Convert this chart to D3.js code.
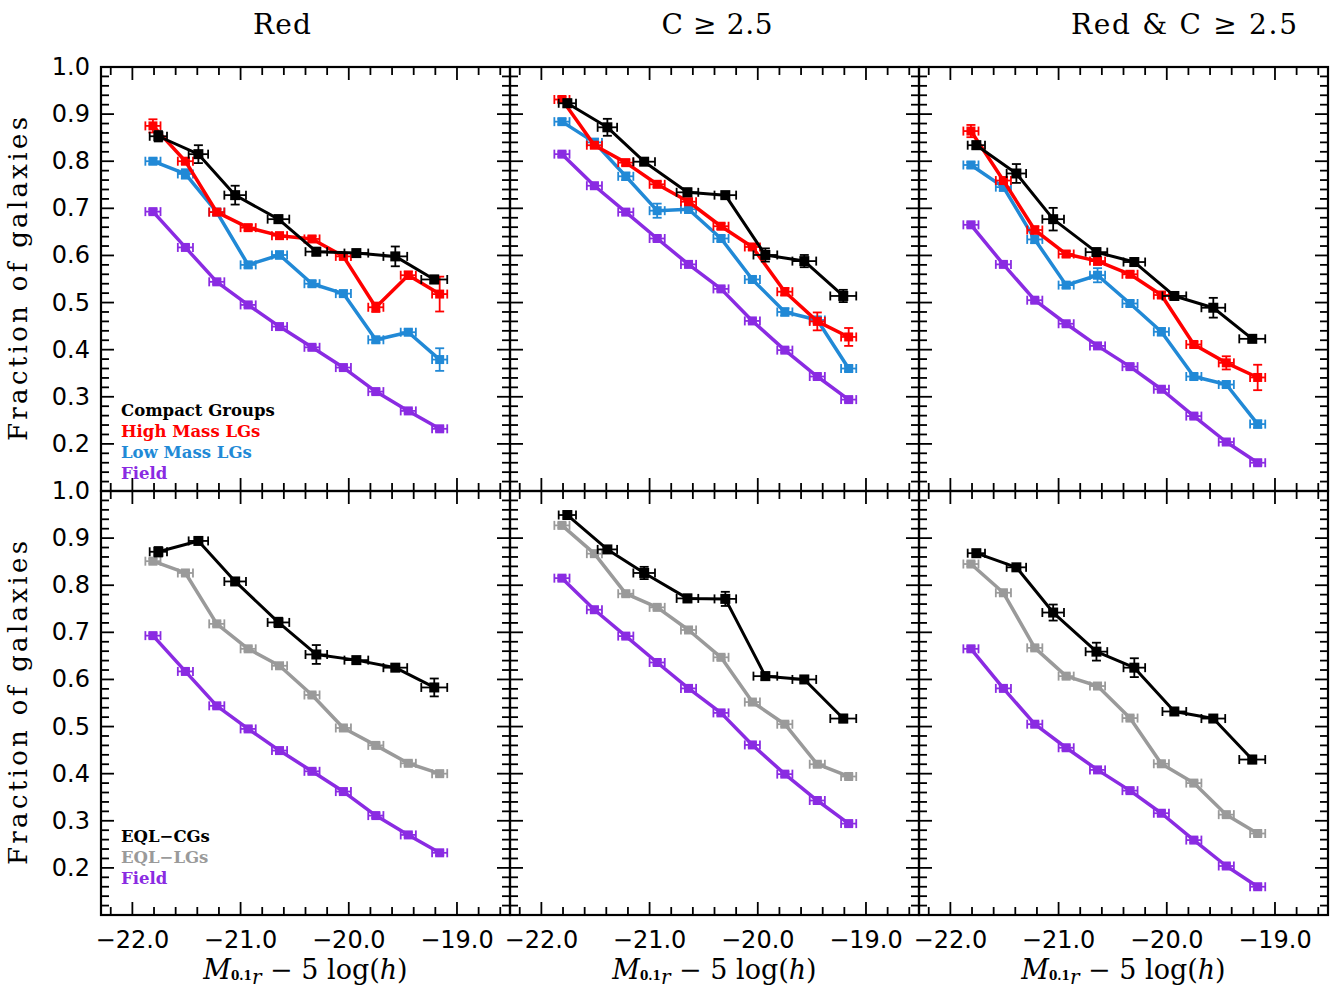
<!DOCTYPE html>
<html>
<head>
<meta charset="utf-8">
<script src="https://cdn.jsdelivr.net/npm/d3@7"></script>
<style>
  body { margin: 0; background: #fff; }
  svg { display: block; }
</style>
</head>
<body>
<svg width="1334" height="991"></svg>
<script>
// Magnitude bins
const fieldX = [-21.81, -21.51, -21.22, -20.93, -20.64, -20.34, -20.05, -19.75, -19.45, -19.16];
const fieldXErr = [0.07, 0.07, 0.07, 0.07, 0.07, 0.07, 0.07, 0.07, 0.07, 0.07];
const cgX = [-21.76, -21.39, -21.05, -20.65, -20.3, -19.93, -19.57, -19.21];
const cgXErr = [0.08, 0.09, 0.1, 0.1, 0.1, 0.11, 0.11, 0.12];

// Column titles
const titles = ["Red", "C \u2265 2.5", "Red & C \u2265 2.5"];

// Red
const redField = [0.693, 0.617, 0.544, 0.495, 0.449, 0.405, 0.362, 0.311, 0.27, 0.232];
const redCG = [0.853, 0.815, 0.728, 0.677, 0.608, 0.605, 0.598, 0.549];
const redCGErr = [0.011, 0.019, 0.02, 0.008, 0.008, 0.006, 0.021, 0.008];
const redHigh = [0.875, 0.8, 0.692, 0.659, 0.642, 0.635, 0.598, 0.49, 0.558, 0.518];
const redHighErr = [0.014, 0.006, 0.006, 0.006, 0.006, 0.006, 0.006, 0.01, 0.008, 0.037];
const redLow = [0.8, 0.773, 0.692, 0.58, 0.601, 0.54, 0.519, 0.421, 0.437, 0.379];
const redLowErr = [0.006, 0.01, 0.006, 0.006, 0.008, 0.006, 0.006, 0.006, 0.006, 0.024];
const redEqlCG = [0.871, 0.894, 0.808, 0.721, 0.653, 0.641, 0.625, 0.583];
const redEqlCGErr = [0.01, 0.006, 0.006, 0.01, 0.02, 0.006, 0.006, 0.019];
const redEqlLG = [0.851, 0.826, 0.718, 0.665, 0.629, 0.567, 0.497, 0.46, 0.422, 0.4];

// C >= 2.5
const concField = [0.815, 0.748, 0.692, 0.636, 0.581, 0.529, 0.461, 0.399, 0.343, 0.294];
const concCG = [0.923, 0.872, 0.799, 0.734, 0.728, 0.601, 0.588, 0.514];
const concCGErr = [0.008, 0.018, 0.006, 0.008, 0.006, 0.014, 0.013, 0.013];
const concHigh = [0.931, 0.834, 0.797, 0.751, 0.714, 0.662, 0.618, 0.523, 0.46, 0.427];
const concHighErr = [0.006, 0.006, 0.006, 0.006, 0.006, 0.006, 0.006, 0.008, 0.019, 0.019];
const concLow = [0.884, 0.84, 0.768, 0.695, 0.698, 0.636, 0.549, 0.48, 0.463, 0.36];
const concLowErr = [0.006, 0.008, 0.008, 0.015, 0.008, 0.006, 0.006, 0.008, 0.006, 0.006];
const concEqlCG = [0.949, 0.876, 0.826, 0.772, 0.771, 0.607, 0.6, 0.517];
const concEqlCGErr = [0.006, 0.006, 0.013, 0.008, 0.015, 0.008, 0.006, 0.008];
const concEqlLG = [0.927, 0.867, 0.782, 0.753, 0.705, 0.647, 0.552, 0.505, 0.42, 0.394];

// Red & C >= 2.5
const bothField = [0.665, 0.581, 0.505, 0.455, 0.408, 0.364, 0.316, 0.259, 0.204, 0.16];
const bothCG = [0.834, 0.774, 0.677, 0.607, 0.586, 0.514, 0.489, 0.423];
const bothCGErr = [0.008, 0.02, 0.024, 0.008, 0.008, 0.008, 0.021, 0.006];
const bothHigh = [0.864, 0.759, 0.654, 0.603, 0.588, 0.56, 0.516, 0.411, 0.372, 0.341];
const bothHighErr = [0.013, 0.006, 0.008, 0.006, 0.008, 0.006, 0.006, 0.006, 0.014, 0.027];
const bothLow = [0.792, 0.745, 0.634, 0.537, 0.558, 0.498, 0.438, 0.343, 0.326, 0.242];
const bothLowErr = [0.006, 0.008, 0.008, 0.006, 0.015, 0.006, 0.008, 0.006, 0.006, 0.008];
const bothEqlCG = [0.868, 0.838, 0.742, 0.659, 0.625, 0.532, 0.517, 0.43];
const bothEqlCGErr = [0.006, 0.006, 0.017, 0.019, 0.02, 0.006, 0.006, 0.008];
const bothEqlLG = [0.845, 0.784, 0.667, 0.607, 0.586, 0.518, 0.421, 0.38, 0.313, 0.273];

const smallErr = [0.005, 0.005, 0.005, 0.005, 0.005, 0.005, 0.005, 0.005, 0.005, 0.005];

const xTicks = [-22, -21, -20, -19];
const yTicks = [1.0, 0.9, 0.8, 0.7, 0.6, 0.5, 0.4, 0.3, 0.2];

const topLegend = ["Compact Groups", "High Mass LGs", "Low Mass LGs", "Field"];
const bottomLegend = ["EQL\u2212CGs", "EQL\u2212LGs", "Field"];

const COLORS = {
  cg: "#000000",
  high: "#ff0000",
  low: "#2189d6",
  field: "#8a2be2",
  eqlLG: "#9a9a9a"
};

const svg = d3.select("svg");

// Panel geometry
const panelW = 409;
const panelH = 424;
const left0 = 101;
const top0 = 67;

const x = d3.scaleLinear().domain([-22.29, -18.51]).range([0, panelW]);
const y = d3.scaleLinear().domain([0.1, 1.0]).range([panelH, 0]);

function series(xs, ys, xe, ye, color, lw, ms) {
  return xs.map((v, i) => ({ x: v, y: ys[i], xe: xe[i], ye: ye[i] }))
    .map((d) => Object.assign(d, { color, lw, ms }));
}

const panels = [
  { col: 0, row: 0, lines: [
    series(fieldX, redField, fieldXErr, smallErr, COLORS.field, 3.5, 9),
    series(fieldX, redLow, fieldXErr, redLowErr, COLORS.low, 3.5, 9),
    series(fieldX, redHigh, fieldXErr, redHighErr, COLORS.high, 3.5, 9),
    series(cgX, redCG, cgXErr, redCGErr, COLORS.cg, 3, 10)
  ] },
  { col: 1, row: 0, lines: [
    series(fieldX, concField, fieldXErr, smallErr, COLORS.field, 3.5, 9),
    series(fieldX, concLow, fieldXErr, concLowErr, COLORS.low, 3.5, 9),
    series(fieldX, concHigh, fieldXErr, concHighErr, COLORS.high, 3.5, 9),
    series(cgX, concCG, cgXErr, concCGErr, COLORS.cg, 3, 10)
  ] },
  { col: 2, row: 0, lines: [
    series(fieldX, bothField, fieldXErr, smallErr, COLORS.field, 3.5, 9),
    series(fieldX, bothLow, fieldXErr, bothLowErr, COLORS.low, 3.5, 9),
    series(fieldX, bothHigh, fieldXErr, bothHighErr, COLORS.high, 3.5, 9),
    series(cgX, bothCG, cgXErr, bothCGErr, COLORS.cg, 3, 10)
  ] },
  { col: 0, row: 1, lines: [
    series(fieldX, redField, fieldXErr, smallErr, COLORS.field, 3.5, 9),
    series(fieldX, redEqlLG, fieldXErr, smallErr, COLORS.eqlLG, 3.5, 9),
    series(cgX, redEqlCG, cgXErr, redEqlCGErr, COLORS.cg, 3, 10)
  ] },
  { col: 1, row: 1, lines: [
    series(fieldX, concField, fieldXErr, smallErr, COLORS.field, 3.5, 9),
    series(fieldX, concEqlLG, fieldXErr, smallErr, COLORS.eqlLG, 3.5, 9),
    series(cgX, concEqlCG, cgXErr, concEqlCGErr, COLORS.cg, 3, 10)
  ] },
  { col: 2, row: 1, lines: [
    series(fieldX, bothField, fieldXErr, smallErr, COLORS.field, 3.5, 9),
    series(fieldX, bothEqlLG, fieldXErr, smallErr, COLORS.eqlLG, 3.5, 9),
    series(cgX, bothEqlCG, cgXErr, bothEqlCGErr, COLORS.cg, 3, 10)
  ] }
];

const line = d3.line().x((d) => x(d.x)).y((d) => y(d.y));

panels.forEach((p) => {
  const g = svg.append("g")
    .attr("transform", `translate(${left0 + p.col * panelW}, ${top0 + p.row * panelH})`);

  // Inward ticks on all four sides
  const minorX = d3.range(-22.2, -18.5, 0.2);
  const minorY = d3.range(0.12, 0.99, 0.02);
  const majorY = d3.range(0.1, 1.01, 0.1);
  const tk = g.append("g").attr("stroke", "#000").attr("stroke-width", 1.8);
  minorX.forEach((v) => {
    const major = xTicks.some((t) => Math.abs(t - v) < 1e-6);
    const len = major ? 13 : 8;
    tk.append("line").attr("x1", x(v)).attr("x2", x(v)).attr("y1", panelH).attr("y2", panelH - len);
    tk.append("line").attr("x1", x(v)).attr("x2", x(v)).attr("y1", 0).attr("y2", len);
  });
  minorY.forEach((v) => {
    const major = majorY.some((t) => Math.abs(t - v) < 1e-6);
    const len = major ? 13 : 8;
    tk.append("line").attr("y1", y(v)).attr("y2", y(v)).attr("x1", 0).attr("x2", len);
    tk.append("line").attr("y1", y(v)).attr("y2", y(v)).attr("x1", panelW).attr("x2", panelW - len);
  });

  g.append("rect")
    .attr("width", panelW).attr("height", panelH)
    .attr("fill", "none").attr("stroke", "#000").attr("stroke-width", 2.2);

  p.lines.forEach((s) => {
    const color = s[0].color;
    g.append("path").datum(s)
      .attr("d", line).attr("fill", "none")
      .attr("stroke", color).attr("stroke-width", s[0].lw)
      .attr("stroke-linejoin", "round");

    const eb = g.append("g").attr("stroke", color).attr("stroke-width", 1.8);
    s.forEach((d) => {
      const cx = x(d.x), cy = y(d.y);
      const x0 = x(d.x - d.xe), x1 = x(d.x + d.xe);
      const y0 = y(d.y - d.ye), y1 = y(d.y + d.ye);
      eb.append("line").attr("x1", x0).attr("x2", x1).attr("y1", cy).attr("y2", cy);
      eb.append("line").attr("x1", x0).attr("x2", x0).attr("y1", cy - 4.5).attr("y2", cy + 4.5);
      eb.append("line").attr("x1", x1).attr("x2", x1).attr("y1", cy - 4.5).attr("y2", cy + 4.5);
      eb.append("line").attr("x1", cx).attr("x2", cx).attr("y1", y0).attr("y2", y1);
      eb.append("line").attr("x1", cx - 4.5).attr("x2", cx + 4.5).attr("y1", y0).attr("y2", y0);
      eb.append("line").attr("x1", cx - 4.5).attr("x2", cx + 4.5).attr("y1", y1).attr("y2", y1);
    });

    g.append("g").selectAll("rect").data(s).enter().append("rect")
      .attr("x", (d) => x(d.x) - d.ms / 2)
      .attr("y", (d) => y(d.y) - d.ms / 2)
      .attr("width", (d) => d.ms).attr("height", (d) => d.ms)
      .attr("fill", color);
  });

  // Tick labels
  if (p.col === 0) {
    g.append("g").selectAll("text").data(yTicks).enter().append("text")
      .attr("x", -11).attr("y", (d) => y(d) + 8)
      .attr("text-anchor", "end")
      .attr("font-family", "DejaVu Sans").attr("font-size", 24)
      .text((d) => d.toFixed(1));

    g.append("text")
      .attr("transform", `translate(-74, ${panelH / 2}) rotate(-90)`)
      .attr("text-anchor", "middle")
      .attr("font-family", "DejaVu Serif").attr("font-size", 26)
      .attr("textLength", 324).attr("lengthAdjust", "spacing")
      .text("Fraction of galaxies");
  }

  if (p.row === 1) {
    g.append("g").selectAll("text").data(xTicks).enter().append("text")
      .attr("x", (d) => x(d)).attr("y", panelH + 33)
      .attr("text-anchor", "middle")
      .attr("font-family", "DejaVu Sans").attr("font-size", 24)
      .text((d) => "\u2212" + Math.abs(d).toFixed(1));

    const lab = g.append("text")
      .attr("x", panelW / 2).attr("y", panelH + 64)
      .attr("text-anchor", "middle")
      .attr("font-family", "DejaVu Serif").attr("font-size", 27);
    lab.append("tspan").attr("font-style", "italic").text("M");
    lab.append("tspan").attr("font-size", 12).attr("font-weight", "bold").attr("dy", 1).text("0.1");
    lab.append("tspan").attr("font-style", "italic").attr("font-size", 20).attr("dy", 4).text("r");
    lab.append("tspan").attr("dy", -5).text(" \u2212 5 log(");
    lab.append("tspan").attr("font-style", "italic").text("h");
    lab.append("tspan").text(")");
  }

  if (p.row === 0) {
    g.append("text")
      .attr("x", [181, 207, 265][p.col]).attr("y", -33)
      .attr("text-anchor", "middle")
      .attr("font-family", "DejaVu Serif").attr("font-size", 28)
      .attr("textLength", [58, 111, 226][p.col]).attr("lengthAdjust", "spacing")
      .text(titles[p.col]);
  }

  // Legends in the left column
  if (p.col === 0) {
    const items = p.row === 0 ? topLegend : bottomLegend;
    const cols = p.row === 0
      ? [COLORS.cg, COLORS.high, COLORS.low, COLORS.field]
      : [COLORS.cg, COLORS.eqlLG, COLORS.field];
    const startY = p.row === 0 ? 349 : 351;
    g.append("g").selectAll("text").data(items).enter().append("text")
      .attr("x", 20).attr("y", (d, i) => startY + i * 21)
      .attr("font-family", "DejaVu Serif").attr("font-weight", "bold").attr("font-size", 16.5)
      .attr("fill", (d, i) => cols[i])
      .text((d) => d);
  }
});
</script>
</body>
</html>
